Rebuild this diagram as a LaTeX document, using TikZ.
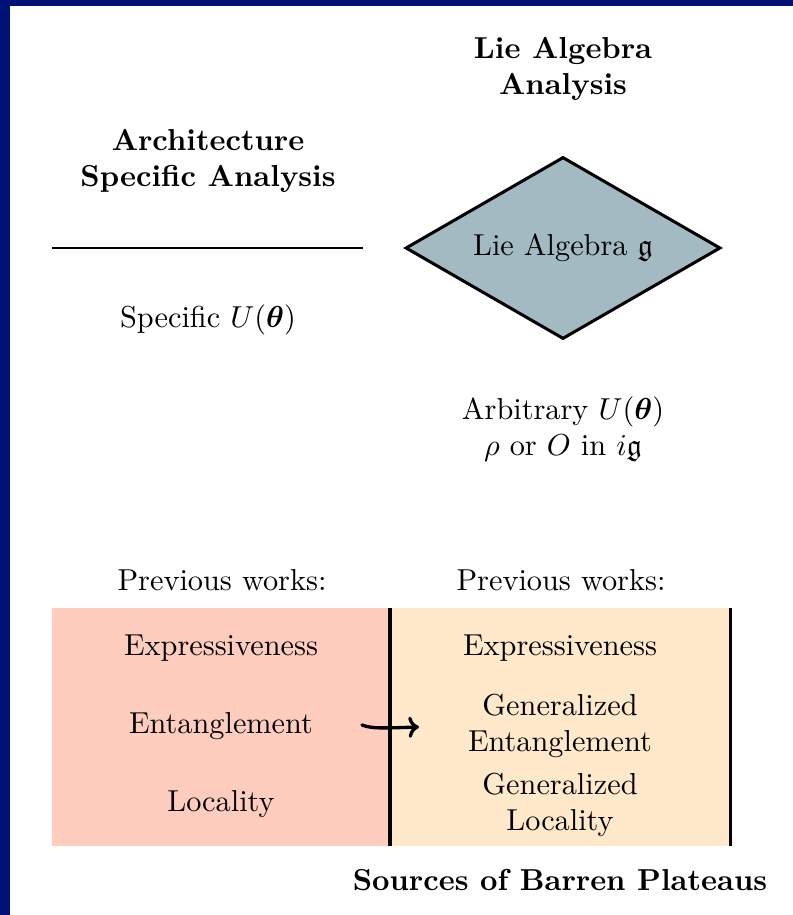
\documentclass[tikz,border=0pt]{standalone}
\usepackage{amsmath,amssymb}
\usetikzlibrary{shapes.geometric,arrows.meta}
\definecolor{navyframe}{RGB}{0,18,120}
\definecolor{liecol}{RGB}{163,186,194}
\definecolor{leftcol}{RGB}{255,205,189}
\definecolor{rightcol}{RGB}{255,233,202}
\tikzset{
  title/.style={font=\bfseries, align=center, inner sep=1pt},
  lbl/.style={align=center, inner sep=1pt},
  sepline/.style={line width=1pt},
}
\begin{document}
\begin{tikzpicture}[x=0.33pt,y=-0.33pt]
\useasboundingbox (0,0) rectangle (793,915);
\fill[white] (0,0) rectangle (793,915);
% frame
\fill[navyframe] (0,0) rectangle (10,915);
\fill[navyframe] (0,0) rectangle (793,6);
% titles
\node[title] (lietitle) at (563,69) {Lie Algebra\\Analysis};
\node[title] (archtitle) at (208,161) {Architecture\\Specific Analysis};
% horizontal line
\coordinate (hl1) at (52,248);
\coordinate (hl2) at (363,248);
\draw[line width=0.8pt] (hl1) -- (hl2);
% diamond
\node[diamond, draw, line width=1pt, fill=liecol, aspect=1.73, minimum width=103.95pt, minimum height=60.06pt, inner sep=0pt] (lie) at (563,248) {Lie Algebra $\mathfrak{g}$};
% labels
\node[lbl] (spec) at (208,320) {Specific $U(\boldsymbol{\theta})$};
\node[lbl] (arb) at (563,429) {Arbitrary $U(\boldsymbol{\theta})$\\$\rho$ or $O$ in $i\mathfrak{g}$};
\node[lbl] (prevl) at (222,580) {Previous works:};
\node[lbl] (prevr) at (561,580) {Previous works:};
% boxes
\fill[leftcol] (52,608) rectangle (390,846);
\fill[rightcol] (390,608) rectangle (730,846);
\coordinate (v1a) at (390,608);
\coordinate (v1b) at (390,846);
\coordinate (v2a) at (730,608);
\coordinate (v2b) at (730,846);
\draw[sepline] (v1a) -- (v1b);
\draw[sepline] (v2a) -- (v2b);
% left texts
\node[lbl] (lexp) at (221,648) {Expressiveness};
\node[lbl] (lent) at (221,726) {Entanglement};
\node[lbl] (lloc) at (221,804) {Locality};
% right texts
\node[lbl] (rexp) at (560,648) {Expressiveness};
\node[lbl] (rent) at (560,726) {Generalized\\Entanglement};
\node[lbl] (rloc) at (560,805) {Generalized\\Locality};
% arrow
\coordinate (as) at (362,725);
\coordinate (ae) at (419,727);
\draw[line width=1.1pt, line cap=round, -{To[length=3.5pt,width=7pt,line width=1.1pt]}] (as) .. controls (372,729) and (385,728) .. (ae);
% bottom title
\node[title] (sources) at (560,880) {Sources of Barren Plateaus};
\end{tikzpicture}
\end{document}
